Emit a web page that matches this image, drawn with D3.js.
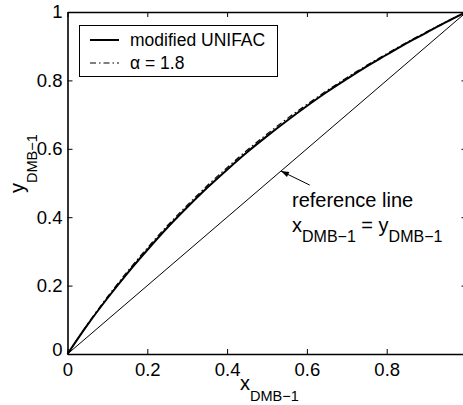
<!DOCTYPE html>
<html><head><meta charset="utf-8">
<script src="https://cdn.jsdelivr.net/npm/d3@7/dist/d3.min.js"></script>
<style>
body{margin:0;background:#fff;}
svg{display:block;font-family:"Liberation Sans",Arial,Helvetica,sans-serif;}
</style></head>
<body><svg id="c" width="463" height="405"></svg>
<script>
// ---- data ----
const xValues   = [0,0.05,0.1,0.15,0.2,0.25,0.3,0.35,0.4,0.45,0.5,0.55,0.6,0.65,0.7,0.75,0.8,0.85,0.9,0.95,1];
const unifacY   = [0,0.085,0.163,0.236,0.304,0.369,0.429,0.486,0.539,0.590,0.637,0.682,0.725,0.766,0.804,0.841,0.875,0.909,0.940,0.971,1];
const alphaY    = [0,0.087,0.167,0.241,0.310,0.375,0.435,0.492,0.545,0.596,0.643,0.688,0.730,0.770,0.808,0.844,0.878,0.911,0.942,0.972,1];
const refX      = [0,1];
const refY      = [0,1];
const xTicks    = [0,0.2,0.4,0.6,0.8,1];
const xTickLabels = ["0","0.2","0.4","0.6","0.8",""];
const yTicks    = [0,0.2,0.4,0.6,0.8,1];
const yTickLabels = ["0","0.2","0.4","0.6","0.8","1"];
const legendLabels = ["modified UNIFAC","\u03B1 = 1.8"];

// ---- layout ----
const svg = d3.select("#c");
const x = d3.scaleLinear().domain([0,1]).range([67.5,466.5]);
const y = d3.scaleLinear().domain([0,1]).range([354,12]);
const black = "#000";

function styleAxis(g){
  g.select(".domain").attr("stroke",black).attr("stroke-width",1.6);
  g.selectAll(".tick line").attr("stroke",black).attr("stroke-width",1);
  g.selectAll(".tick text").attr("fill",black).attr("font-size",18.5);
}
const gB = svg.append("g").attr("transform",`translate(0,${y(0)})`)
  .call(d3.axisBottom(x).tickValues(xTicks).tickSizeInner(-5).tickSizeOuter(0).tickPadding(9)
    .tickFormat((d,i)=>xTickLabels[i]));
styleAxis(gB);
const gT = svg.append("g").attr("transform",`translate(0,${y(1)})`)
  .call(d3.axisTop(x).tickValues(xTicks).tickSizeInner(-5).tickSizeOuter(0).tickFormat(""));
styleAxis(gT);
const gL = svg.append("g").attr("transform",`translate(${x(0)},0)`)
  .call(d3.axisLeft(y).tickValues(yTicks).tickSizeInner(-5).tickSizeOuter(0).tickPadding(5)
    .tickFormat((d,i)=>yTickLabels[i]));
styleAxis(gL);
gL.selectAll(".tick text").filter(d=>d===0).attr("dy","0.1em");
const gR = svg.append("g").attr("transform",`translate(${x(1)},0)`)
  .call(d3.axisRight(y).tickValues(yTicks).tickSizeInner(-5).tickSizeOuter(0).tickFormat(""));
styleAxis(gR);

// ---- lines ----
const line = d3.line().x(d=>x(d[0])).y(d=>y(d[1]));
svg.append("path").datum(refX.map((v,i)=>[v,refY[i]]))
  .attr("d",line).attr("fill","none").attr("stroke",black).attr("stroke-width",1);
svg.append("path").datum(xValues.map((v,i)=>[v,unifacY[i]]))
  .attr("d",line.curve(d3.curveMonotoneX)).attr("fill","none").attr("stroke",black).attr("stroke-width",2);
svg.append("path").datum(xValues.map((v,i)=>[v,alphaY[i]]))
  .attr("d",line.curve(d3.curveMonotoneX)).attr("fill","none").attr("stroke",black)
  .attr("stroke-width",1.2).attr("stroke-dasharray","6,3,1.5,3");

// ---- legend ----
const lg = svg.append("g");
lg.append("rect").attr("x",79.5).attr("y",25.5).attr("width",198).attr("height",51)
  .attr("fill","#fff").attr("stroke",black).attr("stroke-width",1);
lg.append("line").attr("x1",90).attr("x2",119).attr("y1",40).attr("y2",40)
  .attr("stroke",black).attr("stroke-width",2);
lg.append("line").attr("x1",90).attr("x2",119).attr("y1",63).attr("y2",63)
  .attr("stroke",black).attr("stroke-width",1.2).attr("stroke-dasharray","6,3,1.5,3");
lg.selectAll("text.lt").data(legendLabels).join("text").attr("class","lt")
  .attr("x",130).attr("y",(d,i)=>i===0?46:69).attr("font-size",17.5).attr("fill",black).text(d=>d);

// ---- axis labels ----
const xl = svg.append("text").attr("x",240).attr("y",390).attr("fill",black);
xl.append("tspan").attr("font-size",20).text("x");
xl.append("tspan").attr("font-size",14.5).attr("dy",11).text("DMB\u22121");

const yl = svg.append("text").attr("transform","translate(24,193) rotate(-90)").attr("fill",black);
yl.append("tspan").attr("font-size",20).text("y");
yl.append("tspan").attr("font-size",14.5).attr("dy",13).text("DMB\u22121");

// ---- annotation ----
const tip = [x(0.535), y(0.535)];
const tail = [x(0.607), y(0.494)];
svg.append("line").attr("x1",tail[0]).attr("y1",tail[1]).attr("x2",tip[0]).attr("y2",tip[1])
  .attr("stroke",black).attr("stroke-width",1);
const ang = Math.atan2(tip[1]-tail[1], tip[0]-tail[0]);
const L = 8, W = 2.8;
const bx = tip[0]-L*Math.cos(ang), by = tip[1]-L*Math.sin(ang);
svg.append("path").attr("d",`M${tip[0]},${tip[1]}L${bx+W*Math.sin(ang)},${by-W*Math.cos(ang)}L${bx-W*Math.sin(ang)},${by+W*Math.cos(ang)}Z`)
  .attr("fill",black);
svg.append("text").attr("x",292).attr("y",207).attr("font-size",20).attr("fill",black).text("reference line");
const eq = svg.append("text").attr("x",292).attr("y",232).attr("fill",black);
eq.append("tspan").attr("font-size",20).text("x");
eq.append("tspan").attr("font-size",16).attr("dy",10).text("DMB\u22121");
eq.append("tspan").attr("font-size",20).attr("dy",-10).text(" = y");
eq.append("tspan").attr("font-size",16).attr("dy",10).text("DMB\u22121");
</script></body></html>
